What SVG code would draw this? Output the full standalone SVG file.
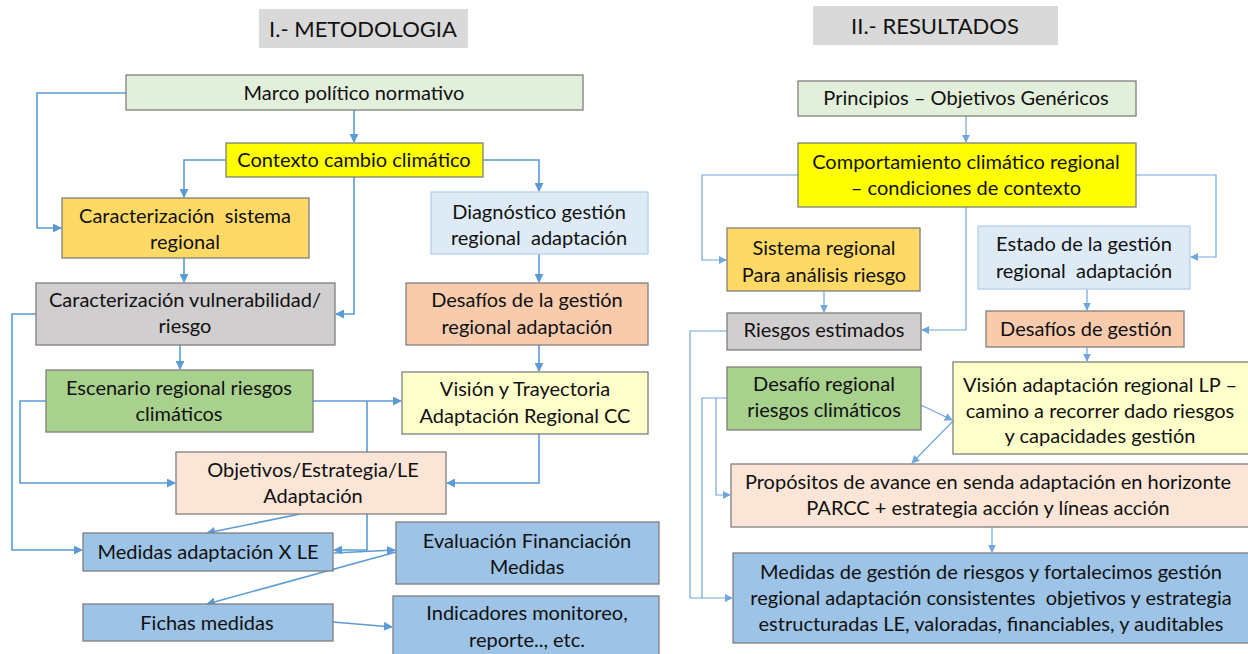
<svg xmlns="http://www.w3.org/2000/svg" width="1248" height="654" viewBox="0 0 1248 654">
  <style>
    .box { stroke: #7f7f7f; stroke-width: 1.3; }
    .lite { stroke: #b4cfe9; stroke-width: 1.3; }
    .t { font-family: Lato, "Open Sans", sans-serif; font-size: 20px; fill: #111; text-anchor: middle; white-space: pre; }
    .h { font-family: Lato, "Open Sans", sans-serif; font-size: 22px; fill: #111; text-anchor: middle; }
    .c { fill: none; stroke: #5b9bd5; stroke-width: 1.6; }
    .c2 { fill: none; stroke: #6fa6dc; stroke-width: 1.2; }
    .green { fill: #e2efda; }
    .yellow { fill: #ffff00; }
    .gold { fill: #ffd966; }
    .pale { fill: #deebf7; }
    .grey { fill: #d0cece; }
    .salmon { fill: #f8cbad; }
    .leaf { fill: #a9d18e; }
    .cream { fill: #ffffcc; }
    .peach { fill: #fbe5d6; }
    .blue { fill: #9dc3e6; }
  </style>
  <defs>
    <marker id="arr" viewBox="0 0 10 10" refX="9" refY="5" markerWidth="9" markerHeight="9" markerUnits="userSpaceOnUse" orient="auto">
      <path d="M0,0 L10,5 L0,10 z" fill="#5b9bd5"/>
    </marker>
    <marker id="arr2" viewBox="0 0 10 10" refX="9" refY="5" markerWidth="8" markerHeight="8" markerUnits="userSpaceOnUse" orient="auto">
      <path d="M0,0 L10,5 L0,10 z" fill="#6fa6dc"/>
    </marker>
  </defs>
  <rect width="1248" height="654" fill="#ffffff"/>

  <!-- section headings -->
  <g id="heading-metodologia">
    <rect x="259" y="9" width="209" height="39" fill="#d9d9d9"/>
    <text class="h" x="363" y="37">I.- METODOLOGIA</text>
  </g>
  <g id="heading-resultados">
    <rect x="813" y="6" width="245" height="39" fill="#d9d9d9"/>
    <text class="h" x="935" y="34">II.- RESULTADOS</text>
  </g>

  <!-- connectors -->
  <g id="connectors">
    <!-- left column -->
    <path class="c" d="M126,93 H37 V228 H61" marker-end="url(#arr)"/>
    <path class="c" d="M354,110 V142" marker-end="url(#arr)"/>
    <path class="c" d="M226,160 H184 V197" marker-end="url(#arr)"/>
    <path class="c" d="M483,160 H539 V191" marker-end="url(#arr)"/>
    <path class="c" d="M354,177 V314 H336" marker-end="url(#arr)"/>
    <path class="c" d="M184,258 V282" marker-end="url(#arr)"/>
    <path class="c" d="M539,254 V282" marker-end="url(#arr)"/>
    <path class="c" d="M180,345 V369" marker-end="url(#arr)"/>
    <path class="c" d="M539,345 V371" marker-end="url(#arr)"/>
    <path class="c" d="M36,314 H12 V550 H82" marker-end="url(#arr)"/>
    <path class="c" d="M46,401 H20 V483 H175" marker-end="url(#arr)"/>
    <path class="c" d="M313,401 H401" marker-end="url(#arr)"/>
    <path class="c" d="M367,452 V401"/>
    <path class="c" d="M539,434 V483 H447" marker-end="url(#arr)"/>
    <path class="c" d="M367,514 V550 H334" marker-end="url(#arr)"/>
    <path class="c" d="M334,553 L395,550" marker-end="url(#arr)"/>
    <path class="c" d="M300,514 L207,533" marker-end="url(#arr)"/>
    <path class="c" d="M396,552 L207,604" marker-end="url(#arr)"/>
    <path class="c" d="M333,622 L392,627" marker-end="url(#arr)"/>

    <!-- right column -->
    <path class="c2" d="M966,116 V142" marker-end="url(#arr2)"/>
    <path class="c2" d="M798,175 H702 V260 H726" marker-end="url(#arr2)"/>
    <path class="c2" d="M1136,175 H1216 V257 H1191" marker-end="url(#arr2)"/>
    <path class="c2" d="M966,207 V330 H922" marker-end="url(#arr2)"/>
    <path class="c2" d="M824,291 V312" marker-end="url(#arr2)"/>
    <path class="c2" d="M1087,289 V310" marker-end="url(#arr2)"/>
    <path class="c2" d="M1087,347 V361" marker-end="url(#arr2)"/>
    <path class="c2" d="M727,331 H690 V598 H732" marker-end="url(#arr2)"/>
    <path class="c2" d="M727,398 H702 V598"/>
    <path class="c2" d="M716,398 V495 H730" marker-end="url(#arr2)"/>
    <path class="c2" d="M921,405 L952,420" marker-end="url(#arr2)"/>
    <path class="c2" d="M953,421 L912,463" marker-end="url(#arr2)"/>
    <path class="c2" d="M992,527 V552" marker-end="url(#arr2)"/>
  </g>

  <!-- METODOLOGIA nodes -->
  <g id="marco">
    <rect class="box green" x="126" y="75" width="457" height="35"/>
    <text class="t" x="354" y="100">Marco político normativo</text>
  </g>
  <g id="contexto">
    <rect class="box yellow" x="226" y="143" width="257" height="34"/>
    <text class="t" x="354" y="167">Contexto cambio climático</text>
  </g>
  <g id="caract-sistema">
    <rect class="box gold" x="62" y="198" width="247" height="60"/>
    <text class="t" x="185" y="223">Caracterización  sistema</text>
    <text class="t" x="185" y="249">regional</text>
  </g>
  <g id="diagnostico">
    <rect class="lite pale" x="431" y="192" width="217" height="62"/>
    <text class="t" x="539" y="219">Diagnóstico gestión</text>
    <text class="t" x="539" y="245">regional  adaptación</text>
  </g>
  <g id="caract-vulnerabilidad">
    <rect class="box grey" x="36" y="283" width="299" height="62"/>
    <text class="t" x="185" y="307">Caracterización vulnerabilidad/</text>
    <text class="t" x="185" y="333">riesgo</text>
  </g>
  <g id="desafios-gestion">
    <rect class="box salmon" x="406" y="283" width="242" height="62"/>
    <text class="t" x="527" y="307">Desafíos de la gestión</text>
    <text class="t" x="527" y="334">regional adaptación</text>
  </g>
  <g id="escenario">
    <rect class="box leaf" x="46" y="370" width="267" height="62"/>
    <text class="t" x="179" y="395">Escenario regional riesgos</text>
    <text class="t" x="179" y="421">climáticos</text>
  </g>
  <g id="vision-trayectoria">
    <rect class="box cream" x="402" y="372" width="246" height="62"/>
    <text class="t" x="525" y="396">Visión y Trayectoria</text>
    <text class="t" x="525" y="423">Adaptación Regional CC</text>
  </g>
  <g id="objetivos">
    <rect class="box peach" x="176" y="452" width="270" height="62"/>
    <text class="t" x="313" y="477">Objetivos/Estrategia/LE</text>
    <text class="t" x="313" y="503">Adaptación</text>
  </g>
  <g id="medidas-le">
    <rect class="box blue" x="83" y="533" width="250" height="38"/>
    <text class="t" x="208" y="559">Medidas adaptación X LE</text>
  </g>
  <g id="evaluacion">
    <rect class="box blue" x="396" y="522" width="263" height="62"/>
    <text class="t" x="527" y="548">Evaluación Financiación</text>
    <text class="t" x="527" y="574">Medidas</text>
  </g>
  <g id="fichas">
    <rect class="box blue" x="83" y="604" width="250" height="37"/>
    <text class="t" x="207" y="630">Fichas medidas</text>
  </g>
  <g id="indicadores">
    <rect class="box blue" x="393" y="596" width="266" height="62"/>
    <text class="t" x="527" y="620">Indicadores monitoreo,</text>
    <text class="t" x="527" y="647">reporte.., etc.</text>
  </g>

  <!-- RESULTADOS nodes -->
  <g id="principios">
    <rect class="box green" x="798" y="81" width="338" height="35"/>
    <text class="t" x="966" y="105">Principios – Objetivos Genéricos</text>
  </g>
  <g id="comportamiento">
    <rect class="box yellow" x="798" y="143" width="338" height="64"/>
    <text class="t" x="966" y="169">Comportamiento climático regional</text>
    <text class="t" x="966" y="195">– condiciones de contexto</text>
  </g>
  <g id="sistema-regional">
    <rect class="box gold" x="727" y="228" width="193" height="63"/>
    <text class="t" x="824" y="255">Sistema regional</text>
    <text class="t" x="824" y="282">Para análisis riesgo</text>
  </g>
  <g id="estado-gestion">
    <rect class="lite pale" x="978" y="226" width="212" height="63"/>
    <text class="t" x="1084" y="251">Estado de la gestión</text>
    <text class="t" x="1084" y="278">regional  adaptación</text>
  </g>
  <g id="riesgos-estimados">
    <rect class="box grey" x="727" y="313" width="194" height="37"/>
    <text class="t" x="824" y="337">Riesgos estimados</text>
  </g>
  <g id="desafios-de-gestion">
    <rect class="box salmon" x="986" y="311" width="198" height="36"/>
    <text class="t" x="1086" y="336">Desafíos de gestión</text>
  </g>
  <g id="desafio-regional">
    <rect class="box leaf" x="727" y="367" width="194" height="63"/>
    <text class="t" x="824" y="391">Desafío regional</text>
    <text class="t" x="824" y="417">riesgos climáticos</text>
  </g>
  <g id="vision-lp">
    <rect class="box cream" x="953" y="362" width="300" height="92"/>
    <text class="t" x="1100" y="392">Visión adaptación regional LP –</text>
    <text class="t" x="1100" y="418">camino a recorrer dado riesgos</text>
    <text class="t" x="1100" y="443">y capacidades gestión</text>
  </g>
  <g id="propositos">
    <rect class="box peach" x="731" y="464" width="522" height="63"/>
    <text class="t" x="988" y="489">Propósitos de avance en senda adaptación en horizonte</text>
    <text class="t" x="988" y="515">PARCC + estrategia acción y líneas acción</text>
  </g>
  <g id="medidas-gestion">
    <rect class="box blue" x="733" y="553" width="520" height="90"/>
    <text class="t" x="991" y="579">Medidas de gestión de riesgos y fortalecimos gestión</text>
    <text class="t" x="991" y="605">regional adaptación consistentes  objetivos y estrategia</text>
    <text class="t" x="991" y="631">estructuradas LE, valoradas, financiables, y auditables</text>
  </g>
</svg>
